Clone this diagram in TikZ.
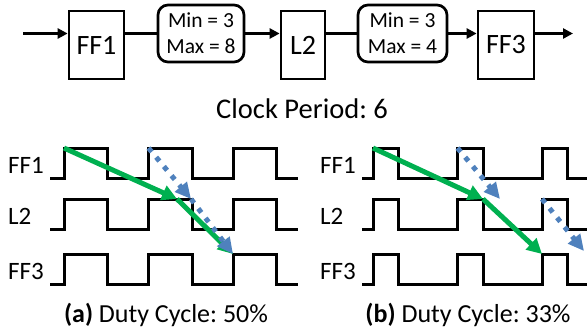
\documentclass[tikz,border=0pt]{standalone}
\usepackage{fontspec}
\setmainfont{Carlito}
\usetikzlibrary{arrows.meta}
\frenchspacing

\definecolor{pathgreen}{RGB}{0,176,80}
\definecolor{pathblue}{RGB}{79,129,189}

%% one clock line: start x, first rise x, high width, low y, end x
\newcommand{\clkwave}[5]{%
  \draw[wave] (#1,#4) \foreach \k in {0,1,2} {
    -- ({#2+84.5*\k},#4) -- ({#2+84.5*\k},#4-30)
    -- ({#2+84.5*\k+#3},#4-30) -- ({#2+84.5*\k+#3},#4) } -- (#5,#4);}

\tikzset{
  blk/.style={draw,line width=2.7pt,minimum height=68pt,inner sep=0pt,
    font=\fontsize{28}{32}\selectfont},
  delay/.style={draw,line width=2.7pt,rounded corners=10pt,minimum width=86pt,
    minimum height=57pt,inner sep=0pt,align=center,font=\fontsize{21.5}{26}\selectfont},
  wire/.style={line width=3pt},
  wireto/.style={wire,-{Triangle[length=10pt,width=10pt]}},
  wave/.style={line width=3pt,line join=miter},
  sig/.style={anchor=base west,inner sep=0pt,font=\fontsize{25}{28}\selectfont},
  caption/.style={anchor=base,inner sep=0pt,font=\fontsize{26}{30}\selectfont},
  maxpath/.style={pathgreen,line width=5pt,-{Triangle[length=15pt,width=15pt]}},
  minpath/.style={pathblue,line width=5pt,dash pattern=on 5pt off 7pt,
    -{Triangle[length=16pt,width=15pt]}},
}

\begin{document}
\begin{tikzpicture}[x=1pt,y=-1pt]
\useasboundingbox (0,0) rectangle (587,335);

%% circuit
\node[blk,minimum width=55pt] (ff1) at (96.5,45) {FF1};
\node[delay] (rb1) at (201,33.5) {Min = 3\\Max = 8};
\node[blk,minimum width=44pt] (l2) at (303,45) {L2};
\node[delay,minimum width=89pt] (rb2) at (402.5,33.5) {Min = 3\\Max = 4};
\node[blk,minimum width=56pt] (ff3) at (506,45) {FF3};
\coordinate (in) at (23,33.5);
\coordinate (out) at (573,33.5);

\draw[wireto] (in) -- (ff1.west |- rb1.west);
\draw[wire] (ff1.east |- rb1.west) -- (rb1.west);
\draw[wireto] (rb1.east) -- (l2.west |- rb1.east);
\draw[wire] (l2.east |- rb2.west) -- (rb2.west);
\draw[wireto] (rb2.east) -- (ff3.west |- rb2.east);
\draw[wireto] (ff3.east |- rb2.east) -- (out);

\node[anchor=base,inner sep=0pt,font=\fontsize{28.5}{32}\selectfont] (period) at (302,118) {Clock Period: 6};

%% (a) duty cycle 50%
\node[sig] (a-ff1) at (8,173) {FF1};
\node[sig] (a-l2) at (8,224) {L2};
\node[sig] (a-ff3) at (8,279) {FF3};
\clkwave{50}{64}{43.5}{178}{298}
\clkwave{50}{64}{43.5}{229}{298}
\clkwave{50}{64}{43.5}{284}{298}

\coordinate (a-launch) at (64,148);
\coordinate (a-latch) at (177,199);
\coordinate (a-capture) at (233,254);
\coordinate (a-launch2) at (148.5,148);
\coordinate (a-close) at (191,199);
\draw[maxpath] (a-launch) -- (a-latch);
\draw[maxpath] (a-latch) -- (a-capture);
\draw[minpath] (a-launch2) -- (a-close);
\draw[minpath] (a-close) -- (a-capture);

\node[caption] (cap-a) at (166,322) {\textbf{(a)} Duty Cycle: 50\%};

%% (b) duty cycle 33%
\node[sig] (b-ff1) at (320,173) {FF1};
\node[sig] (b-l2) at (320,224) {L2};
\node[sig] (b-ff3) at (320,279) {FF3};
\clkwave{362}{373}{25.5}{178}{587}
\clkwave{362}{373}{25.5}{229}{587}
\clkwave{362}{373}{25.5}{284}{587}

\coordinate (b-launch) at (373,148);
\coordinate (b-latch) at (483,199);
\coordinate (b-capture) at (542,254);
\coordinate (b-launch2) at (457.5,148);
\coordinate (b-close) at (500,199);
\coordinate (b-open) at (542,199);
\coordinate (b-next) at (584,251);
\draw[maxpath] (b-launch) -- (b-latch);
\draw[maxpath] (b-latch) -- (b-capture);
\draw[minpath] (b-launch2) -- (b-close);
\draw[minpath] (b-open) -- (b-next);

\node[caption] (cap-b) at (468,322) {\textbf{(b)} Duty Cycle: 33\%};

\end{tikzpicture}
\end{document}
